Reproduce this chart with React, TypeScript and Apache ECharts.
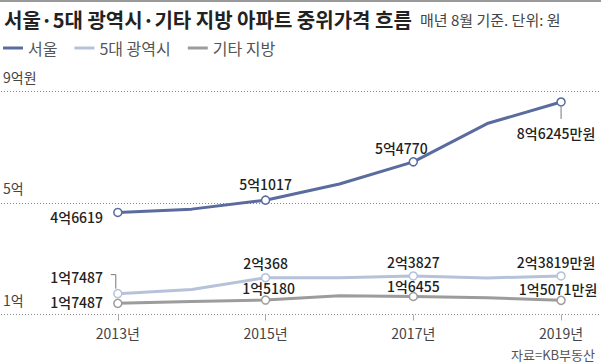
import React, { useEffect, useRef } from "react";
import * as echarts from "echarts";

const years = [2013, 2014, 2015, 2016, 2017, 2018, 2019];
const tickYears = [2013, 2015, 2017, 2019];
const seriesNames = ["서울", "5대 광역시", "기타 지방"];
const seoul = [4.6619, 4.78, 5.1017, 5.68, 6.477, 7.85, 8.6245];
const metro = [1.7487, 1.9, 2.32, 2.32, 2.3827, 2.31, 2.3819];
const other = [1.4, 1.47, 1.518, 1.67, 1.6455, 1.6, 1.5071];
const seoulLabels = ["4억6619", "", "5억1017", "", "5억4770", "", "8억6245만원"];
const metroLabels = ["1억7487", "", "2억368", "", "2억3827", "", "2억3819만원"];
const otherLabels = ["1억7487", "", "1억5180", "", "1억6455", "", "1억5071만원"];
const yTickLabels: Record<number, string> = { 1: "1억", 5: "5억", 9: "9억원" };
const titleText = "서울·5대 광역시·기타 지방 아파트 중위가격 흐름";
const subText = "매년 8월 기준. 단위: 원";
const sourceText = "자료=KB부동산";

const FONT = "'Noto Sans CJK KR', 'Noto Sans', sans-serif";
const colors = ["#5a6c9e", "#b6c2da", "#9c9c9c"];

type Pos = { position: string; distance: number; offset?: number[] } | null;
const seoulPos: Pos[] = [
  { position: "left", distance: 10, offset: [0, 5] }, null,
  { position: "top", distance: 4 }, null,
  { position: "top", distance: 2, offset: [-12, 0] }, null,
  { position: "bottom", distance: 19, offset: [-5, 0] },
];
const metroPos: Pos[] = [
  { position: "left", distance: 10, offset: [0, -17] }, null,
  { position: "top", distance: 3 }, null,
  { position: "top", distance: 2 }, null,
  { position: "top", distance: 2, offset: [-5, 0] },
];
const otherPos: Pos[] = [
  { position: "left", distance: 10, offset: [0, -1] }, null,
  { position: "top", distance: 0, offset: [3, 0] }, null,
  { position: "top", distance: 0, offset: [0, 1] }, null,
  { position: "top", distance: 0, offset: [-3, 0] },
];

function buildData(vals: number[], labels: string[], pos: Pos[]) {
  return vals.map((v, i) => {
    const p = pos[i];
    if (!labels[i] || !p) {
      return { value: [years[i], v], symbol: "none" };
    }
    return {
      value: [years[i], v],
      symbol: "circle",
      itemStyle: { color: "#fff" },
      label: {
        show: true,
        formatter: labels[i],
        position: p.position,
        distance: p.distance,
        offset: p.offset || [0, 0],
        color: "#222",
        fontSize: 14,
        fontWeight: 500,
        fontFamily: FONT,
      },
    };
  });
}

export default function App() {
  const ref = useRef<HTMLDivElement>(null);
  useEffect(() => {
    document.body.style.margin = "0";
    if (!ref.current) return;
    const chart = echarts.init(ref.current, undefined, { renderer: "svg" });
    const W = 601;
    const x0 = 117;
    const x1 = 561;
    const pxPerYear = (x1 - x0) / (years[years.length - 1] - years[0]);
    const xmin = years[0] - x0 / pxPerYear;
    const xmax = years[years.length - 1] + (W - x1) / pxPerYear;
    const allSeries = [seoul, metro, other];
    const allLabels = [seoulLabels, metroLabels, otherLabels];
    const allPos = [seoulPos, metroPos, otherPos];
    chart.setOption({
      animation: false,
      textStyle: { fontFamily: FONT },
      title: [
        {
          text: titleText,
          left: 4,
          top: 9,
          padding: 0,
          textStyle: { fontSize: 20, fontWeight: "bold", color: "#222", fontFamily: FONT },
        },
        {
          text: subText,
          left: 420,
          top: 12,
          padding: 0,
          textStyle: { fontSize: 15, fontWeight: "normal", color: "#444", fontFamily: FONT },
        },
        {
          text: sourceText,
          right: 6,
          top: 348,
          padding: 0,
          textStyle: { fontSize: 13, fontWeight: "normal", color: "#555", fontFamily: FONT },
        },
      ],
      legend: {
        left: 3,
        top: 40,
        padding: 0,
        icon: "rect",
        itemWidth: 20,
        itemHeight: 3,
        itemGap: 17,
        textStyle: { fontSize: 16, color: "#555", fontFamily: FONT },
        data: seriesNames.map((n, i) => ({ name: n, itemStyle: { color: colors[i], borderWidth: 0 } })),
      },
      grid: { left: 0, right: 0, top: 91.5, bottom: 363 - 314.5, containLabel: false },
      xAxis: {
        type: "value",
        min: xmin,
        max: xmax,
        axisLine: { show: false },
        splitLine: { show: false },
        axisTick: {
          show: true,
          customValues: tickYears,
          length: 6,
          lineStyle: { color: "#aaa", width: 1 },
        },
        axisLabel: {
          show: true,
          customValues: tickYears,
          formatter: (v: number) => `${v}년`,
          color: "#444",
          fontSize: 14,
          margin: 11,
          fontFamily: FONT,
        },
      },
      yAxis: {
        type: "value",
        min: 1,
        max: 9,
        interval: 4,
        axisLine: { show: false },
        axisTick: { show: false },
        splitLine: { show: true, lineStyle: { type: [1, 2], color: "#888", width: 1 } },
        axisLabel: {
          inside: true,
          margin: 2,
          align: "left",
          verticalAlign: "bottom",
          padding: [0, 0, 8, 0],
          formatter: (v: number) => yTickLabels[v] || "",
          color: "#444",
          fontSize: 14,
          fontFamily: FONT,
        },
      },
      series: allSeries.map((vals, i) => ({
        name: seriesNames[i],
        type: "line",
        z: 3 - i,
        data: buildData(vals, allLabels[i], allPos[i]),
        symbolSize: 8,
        lineStyle: { color: colors[i], width: 3 },
        itemStyle: { color: colors[i], borderColor: colors[i], borderWidth: 1.5 },
        emphasis: { disabled: true },
      })),
    });
    const ps = chart.convertToPixel({ gridIndex: 0 }, [years[6], seoul[6]]) as number[];
    const pm = chart.convertToPixel({ gridIndex: 0 }, [years[0], metro[0]]) as number[];
    chart.setOption({
      graphic: [
        { type: "rect", shape: { x: 0, y: 0, width: W, height: 2 }, style: { fill: "#999" } },
        {
          type: "line",
          shape: { x1: ps[0], y1: ps[1] + 5, x2: ps[0], y2: ps[1] + 17 },
          style: { stroke: "#777", lineWidth: 1 },
        },
        {
          type: "polyline",
          shape: { points: [[pm[0] - 7, pm[1] - 19], [pm[0] - 2, pm[1] - 19], [pm[0] - 2, pm[1] - 5]] },
          style: { stroke: "#777", lineWidth: 1, fill: "none" },
        },
      ],
    });
    return () => chart.dispose();
  }, []);
  return <div ref={ref} style={{ width: 601, height: 363 }} />;
}
